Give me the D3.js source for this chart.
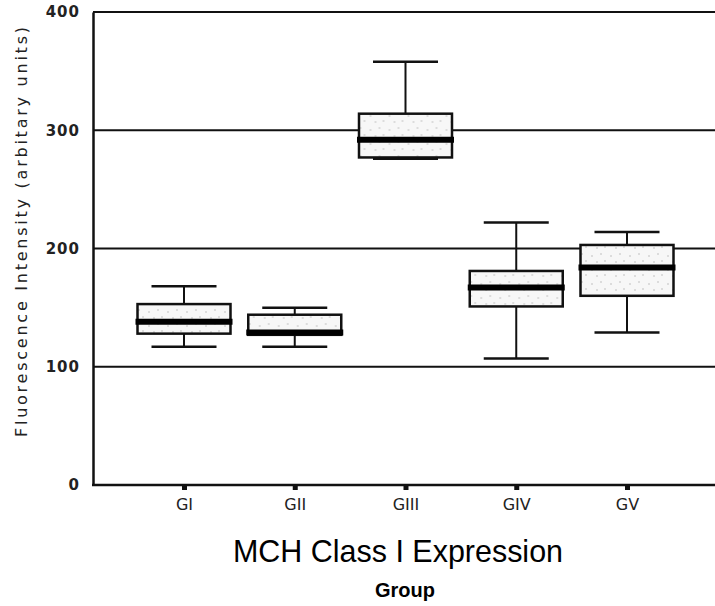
<!DOCTYPE html>
<html>
<head>
<meta charset="utf-8">
<script src="https://cdn.jsdelivr.net/npm/d3@7"></script>
<style>
  body { margin: 0; background: #fff; }
  svg { display: block; }
</style>
</head>
<body>
<div id="chart"></div>
<script>
'use strict';

// data
var groups = ["GI", "GII", "GIII", "GIV", "GV"];
var whiskerLow  = [117, 117, 276, 107, 129];
var q1Values    = [128, 127, 277, 151, 160];
var medians     = [138, 129, 292, 167, 184];
var q3Values    = [153, 144, 314, 181, 203];
var whiskerHigh = [168, 150, 358, 222, 214];
var yTicks = [0, 100, 200, 300, 400];
var gridValues = [100, 200, 300, 400];

var width = 715, height = 606;

var svg = d3.select("#chart").append("svg")
    .attr("width", width)
    .attr("height", height);

// stipple for the boxes
var pat = svg.append("defs").append("pattern")
    .attr("id", "stipple")
    .attr("patternUnits", "userSpaceOnUse")
    .attr("width", 19).attr("height", 14);
pat.append("rect").attr("width", 19).attr("height", 14).attr("fill", "#f7f7f7");
[[3, 4], [12, 2], [8, 10], [16, 9]].forEach(function(p) {
    pat.append("circle").attr("cx", p[0]).attr("cy", p[1]).attr("r", 0.8).attr("fill", "#bbb");
});

var y = d3.scaleLinear().domain([0, 400]).range([485, 12]);
var x = d3.scalePoint().domain(groups).range([184, 627]);

var left = 93, right = width;
var boxW = 93, capW = 65;

// grid lines + top frame
svg.selectAll("line.grid")
    .data(gridValues)
    .enter().append("line")
    .attr("class", "grid")
    .attr("x1", left).attr("x2", right)
    .attr("y1", function(d) { return y(d); })
    .attr("y2", function(d) { return y(d); })
    .attr("stroke", "#111").attr("stroke-width", 2);

// left axis
var yAxis = svg.append("g")
    .attr("transform", "translate(" + left + ",0)")
    .call(d3.axisLeft(y).tickValues(yTicks).tickSize(0).tickPadding(13));
yAxis.select(".domain").attr("stroke", "#111").attr("stroke-width", 2.5);
yAxis.selectAll("text")
    .attr("font-family", "DejaVu Sans, sans-serif")
    .attr("font-size", 15).attr("font-weight", "bold")
    .attr("letter-spacing", "1px")
    .attr("fill", "#222");

// bottom axis: full-width line + small tick squares
svg.append("line")
    .attr("x1", left - 1).attr("x2", right)
    .attr("y1", y(0)).attr("y2", y(0))
    .attr("stroke", "#111").attr("stroke-width", 2.5);

var xAxis = svg.append("g")
    .attr("transform", "translate(0," + y(0) + ")")
    .call(d3.axisBottom(x).tickSize(5).tickPadding(9));
xAxis.select(".domain").remove();
xAxis.selectAll(".tick line").attr("stroke", "#111").attr("stroke-width", 5);
xAxis.selectAll("text")
    .attr("font-family", "DejaVu Sans, sans-serif")
    .attr("font-size", 16)
    .attr("fill", "#222");

// box plots
var rows = groups.map(function(g, i) {
    return { g: g, lo: whiskerLow[i], q1: q1Values[i], med: medians[i], q3: q3Values[i], hi: whiskerHigh[i] };
});

var box = svg.selectAll("g.box")
    .data(rows)
    .enter().append("g")
    .attr("class", "box")
    .attr("transform", function(d) { return "translate(" + x(d.g) + ",0)"; });

box.append("line")
    .attr("x1", 0).attr("x2", 0)
    .attr("y1", function(d) { return y(d.hi); })
    .attr("y2", function(d) { return y(d.lo); })
    .attr("stroke", "#111").attr("stroke-width", 2);

box.append("line")
    .attr("x1", -capW / 2).attr("x2", capW / 2)
    .attr("y1", function(d) { return y(d.hi); })
    .attr("y2", function(d) { return y(d.hi); })
    .attr("stroke", "#111").attr("stroke-width", 2.5);

box.append("line")
    .attr("x1", -capW / 2).attr("x2", capW / 2)
    .attr("y1", function(d) { return y(d.lo); })
    .attr("y2", function(d) { return y(d.lo); })
    .attr("stroke", "#111").attr("stroke-width", 2.5);

box.append("rect")
    .attr("x", -boxW / 2).attr("width", boxW)
    .attr("y", function(d) { return y(d.q3); })
    .attr("height", function(d) { return y(d.q1) - y(d.q3); })
    .attr("fill", "url(#stipple)")
    .attr("stroke", "#111").attr("stroke-width", 2.5);

box.append("line")
    .attr("x1", -boxW / 2 - 2).attr("x2", boxW / 2 + 2)
    .attr("y1", function(d) { return y(d.med); })
    .attr("y2", function(d) { return y(d.med); })
    .attr("stroke", "#000").attr("stroke-width", 6);

// titles
svg.append("text")
    .attr("transform", "translate(21,232) rotate(-90)")
    .attr("text-anchor", "middle")
    .attr("dy", "0.35em")
    .attr("font-family", "DejaVu Sans, sans-serif")
    .attr("font-size", 16)
    .attr("textLength", 410)
    .attr("lengthAdjust", "spacing")
    .attr("fill", "#222")
    .text("Fluorescence Intensity (arbitary units)");

svg.append("text")
    .attr("x", 398).attr("y", 562)
    .attr("text-anchor", "middle")
    .attr("font-family", "Liberation Sans, Arial, sans-serif")
    .attr("font-size", 32)
    .attr("textLength", 330)
    .attr("lengthAdjust", "spacingAndGlyphs")
    .attr("fill", "#000")
    .text("MCH Class I Expression");

svg.append("text")
    .attr("x", 405).attr("y", 597)
    .attr("text-anchor", "middle")
    .attr("font-family", "Liberation Sans, Arial, sans-serif")
    .attr("font-size", 20)
    .attr("font-weight", "bold")
    .attr("fill", "#000")
    .text("Group");
</script>
</body>
</html>
